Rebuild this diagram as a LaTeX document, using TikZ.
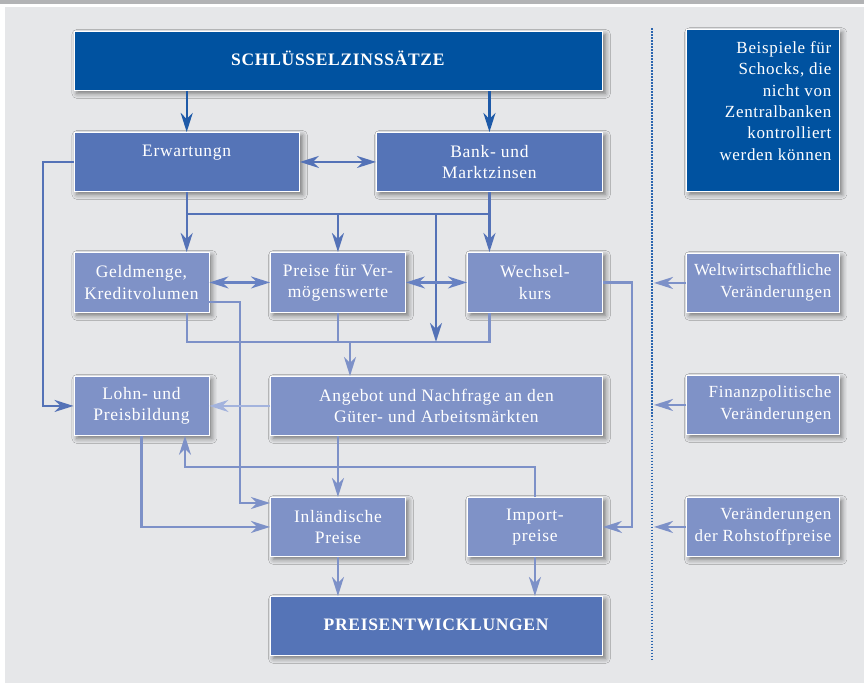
\documentclass[tikz,border=0pt]{standalone}
\usepackage{fontspec}
\setmainfont{Liberation Serif}[LetterSpace=4]
\usetikzlibrary{arrows.meta,shadows.blur,calc}
\definecolor{bgc}{HTML}{E6E7E9}
\definecolor{topbar}{HTML}{B2B3B5}
\definecolor{dkblue}{HTML}{0052A0}
\definecolor{mdblue}{HTML}{5574B7}
\definecolor{ltblue}{HTML}{7F92C7}
\definecolor{cdark}{HTML}{1E5AA8}
\definecolor{cmed}{HTML}{5472B7}
\definecolor{cmid}{HTML}{6882C3}
\definecolor{clight}{HTML}{7D91C8}
\definecolor{cpale}{HTML}{A3B3DD}
\definecolor{dotc}{HTML}{2B65AF}
\tikzset{
  box/.style={draw=white, line width=0.9pt, inner sep=0pt, align=center, text=white,
    font=\fontsize{17.5}{21.4}\selectfont, anchor=north west,
    blur shadow={shadow xshift=3pt, shadow yshift=-3pt, shadow blur radius=5pt, shadow opacity=50}},
  darkbox/.style={box, fill=dkblue},
  midbox/.style={box, fill=mdblue},
  lightbox/.style={box, fill=ltblue},
  rtext/.style={text=white, align=right, inner sep=0pt, font=\fontsize{17}{21.3}\selectfont, anchor=east},
  tipA/.tip={Stealth[length=19pt,width=12pt,inset=6pt]},
  plain/.style={line width=2.2pt},
  conn/.style={line width=2.2pt, -tipA},
  both/.style={line width=2.2pt, tipA-tipA},
}
\begin{document}
\begin{tikzpicture}[x=1pt,y=-1pt]
\useasboundingbox (0,0) rectangle (864,684);
% background
\fill[white] (0,0) rectangle (864,684);
\fill[topbar] (0,0) rectangle (864,4.3);
\fill[bgc] (4.5,7) rectangle (864,682.5);

% left column boxes
\node[darkbox, minimum width=528.5pt, minimum height=59pt] (S) at (73.5,31) {\textbf{SCHLÜSSELZINSSÄTZE}\strut};
\node[midbox, minimum width=225.5pt, minimum height=59pt] (E) at (73.5,132) {Erwartungn\\\mbox{}};
\node[midbox, minimum width=226pt, minimum height=59pt] (B) at (376,132) {Bank- und\\Marktzinsen};
\node[lightbox, minimum width=135pt, minimum height=60pt] (G) at (73.5,252) {Geldmenge,\\Kreditvolumen};
\node[lightbox, minimum width=135pt, minimum height=60pt] (P) at (270,252) {Preise für Ver-\\mögenswerte};
\node[lightbox, minimum width=135pt, minimum height=60pt] (W) at (467,252) {Wechsel-\\kurs};
\node[lightbox, minimum width=135pt, minimum height=59pt] (L) at (73.5,376) {Lohn- und\\Preisbildung};
\node[lightbox, minimum width=332pt, minimum height=59pt] (A) at (270,376) {Angebot und Nachfrage an den\\Güter- und Arbeitsmärkten};
\node[lightbox, minimum width=135pt, minimum height=59pt] (I) at (270,497) {Inländische\\Preise};
\node[lightbox, minimum width=135pt, minimum height=59pt] (M) at (467,497) {Import-\\preise};
\node[midbox, minimum width=332pt, minimum height=59pt] (R) at (270,596) {\textbf{PREISENTWICKLUNGEN}\strut};

% right column boxes
\node[darkbox, minimum width=152.5pt, minimum height=161.5pt] (X) at (686,29.3) {};
\node[lightbox, minimum width=152.5pt, minimum height=59pt] (Y1) at (686,253) {};
\node[lightbox, minimum width=152.5pt, minimum height=59pt] (Y2) at (686,375) {};
\node[lightbox, minimum width=152.5pt, minimum height=59pt] (Y3) at (686,497) {};
\node[rtext] (Xt) at (831.5,101) {Beispiele für\\Schocks, die\\nicht von\\Zentralbanken\\kontrolliert\\werden können};
\node[rtext] (Y1t) at (831.5,282.5) {{\addfontfeature{LetterSpace=1.5}Weltwirtschaftliche}\\Veränderungen};
\node[rtext] (Y2t) at (831.5,404.5) {Finanzpolitische\\Veränderungen};
\node[rtext] (Y3t) at (831.5,526.5) {Veränderungen\\der Rohstoffpreise};

% helper coordinates
\coordinate (b1) at (0,214);
\coordinate (b2) at (0,342);
\coordinate (midx) at (436,0);
\coordinate (ain) at (350,0);
\coordinate (gx) at (240,0);
\coordinate (lx) at (43,0);
\coordinate (lz) at (185,0);
\coordinate (mz) at (0,467);
\coordinate (wx) at (632,0);
\coordinate (dl) at (654,0);
\coordinate (dtop) at (652,28.5);
\coordinate (dbot) at (652,661);

% connectors
\draw[conn, cdark] (S.south -| E.north) -- (E.north);
\draw[conn, cdark] (S.south -| B.north) -- (B.north);
\draw[both, cmed] (E.east) -- (B.west);
\draw[plain, cmed] (E.south) -- (E.south |- b1) -- (B.south |- b1) -- (B.south);
\draw[conn, cmed] (E.south |- b1) -- (E.south |- G.north);
\draw[conn, cmed] (P.north |- b1) -- (P.north);
\draw[conn, cmed] (B.south |- b1) -- (B.south |- W.north);
\draw[plain, clight] (E.south |- G.south) -- (E.south |- b2) -- (B.south |- b2) -- (B.south |- W.south);
\draw[plain, clight] (P.south) -- (P.south |- b2);
\draw[conn, cmed] (midx |- b1) -- (midx |- b2);
\draw[both, cmid] (G.east) -- (P.west);
\draw[both, cmid] (P.east) -- (W.west);
\draw[conn, clight] (ain |- b2) -- (ain |- A.north);
\draw[conn, clight] (G.east |- 0,302) -| (gx |- 0,503) -- (I.west |- 0,503);
\draw[conn, cmed] (E.west) -| (lx |- L.west) -- (L.west);
\draw[conn, cpale] (A.west) -- (L.east);
\draw[conn, clight] (A.south -| I.north) -- (I.north);
\draw[conn, clight] (M.north) |- (lz |- mz) -- (lz |- L.south);
\draw[conn, clight] (L.south) |- (I.west);
\draw[conn, clight] (I.south) -- (I.south |- R.north);
\draw[conn, clight] (M.south) -- (M.south |- R.north);
\draw[conn, clight] (W.east) -| (wx |- M.east) -- (M.east);

% dotted separator and shock arrows
\draw[dotc, line width=1.3pt, dash pattern=on 1.6pt off 1.4pt] (dtop) -- (dbot);
\draw[conn, clight] (Y1.west) -- (Y1.west -| dl);
\draw[conn, clight] (Y2.west) -- (Y2.west -| dl);
\draw[conn, clight] (Y3.west) -- (Y3.west -| dl);
\end{tikzpicture}
\end{document}
